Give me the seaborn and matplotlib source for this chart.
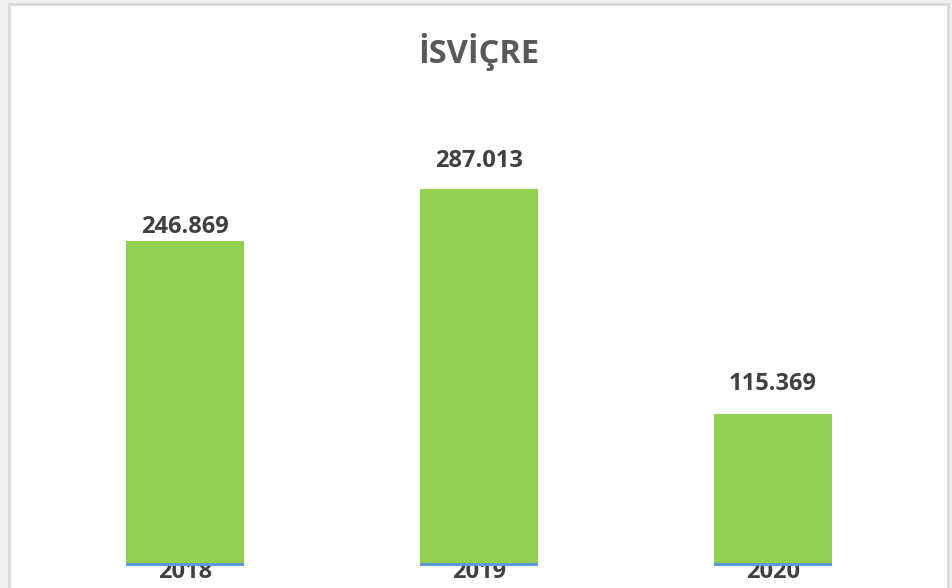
import seaborn as sns
import matplotlib.pyplot as plt
import pandas as pd
from matplotlib.patches import Rectangle

years = ["2018", "2019", "2020"]
values = [246.869, 287.013, 115.369]
base_values = [2.3, 2.3, 2.3]
value_labels = ["246.869", "287.013", "115.369"]
title = "İSVİÇRE"

df = pd.DataFrame({"year": years, "value": values})

sns.set_theme(style="white")
plt.rcParams["font.family"] = ["Open Sans", "DejaVu Sans"]

fig = plt.figure(figsize=(9.53, 5.88), dpi=100)
fig.patch.set_facecolor("#efefef")

# white chart panel with light grey border, behind the axes
panel = Rectangle((9 / 953, -0.05), 939 / 953, 1.05 - 4 / 588,
                  transform=fig.transFigure, facecolor="white",
                  edgecolor="#d9d9d9", linewidth=2, zorder=-5)
fig.patches.append(panel)

ax = fig.add_axes([38 / 953, 22 / 588, 882 / 953, 466 / 588])
ax.set_facecolor("none")
ax.set_zorder(1)

sns.barplot(data=df, x="year", y="value", color="#92d050", width=0.4,
            saturation=1, linewidth=0, ax=ax, zorder=2)
ax.bar(range(len(years)), base_values, width=0.4, color="#5b9bd5",
       linewidth=0, zorder=3)

# data labels sit at slightly different distances above each bar
label_pads = [2, 11, 13]
for bar, text, pad in zip(ax.containers[0], value_labels, label_pads):
    ax.annotate(text, (bar.get_x() + bar.get_width() / 2, bar.get_height()),
                xytext=(0, pad), textcoords="offset points",
                ha="center", va="bottom", fontsize=17, fontweight="bold",
                color="#404040")

ax.set_xlim(-0.5, 2.5)
ax.set_ylim(0, 354.5)
ax.set_xlabel("")
ax.set_ylabel("")
ax.set_yticks([])
ax.tick_params(axis="x", length=0, pad=-4.5, labelsize=17, labelcolor="#404040")
for lbl in ax.get_xticklabels():
    lbl.set_fontweight("bold")
sns.despine(ax=ax, left=True, bottom=True)

fig.text(479 / 953, 1 - 52 / 588, title, ha="center", va="center",
         fontsize=23.5, fontweight="bold", color="#595959")

fig.savefig("out.png", dpi=100, facecolor=fig.get_facecolor())
